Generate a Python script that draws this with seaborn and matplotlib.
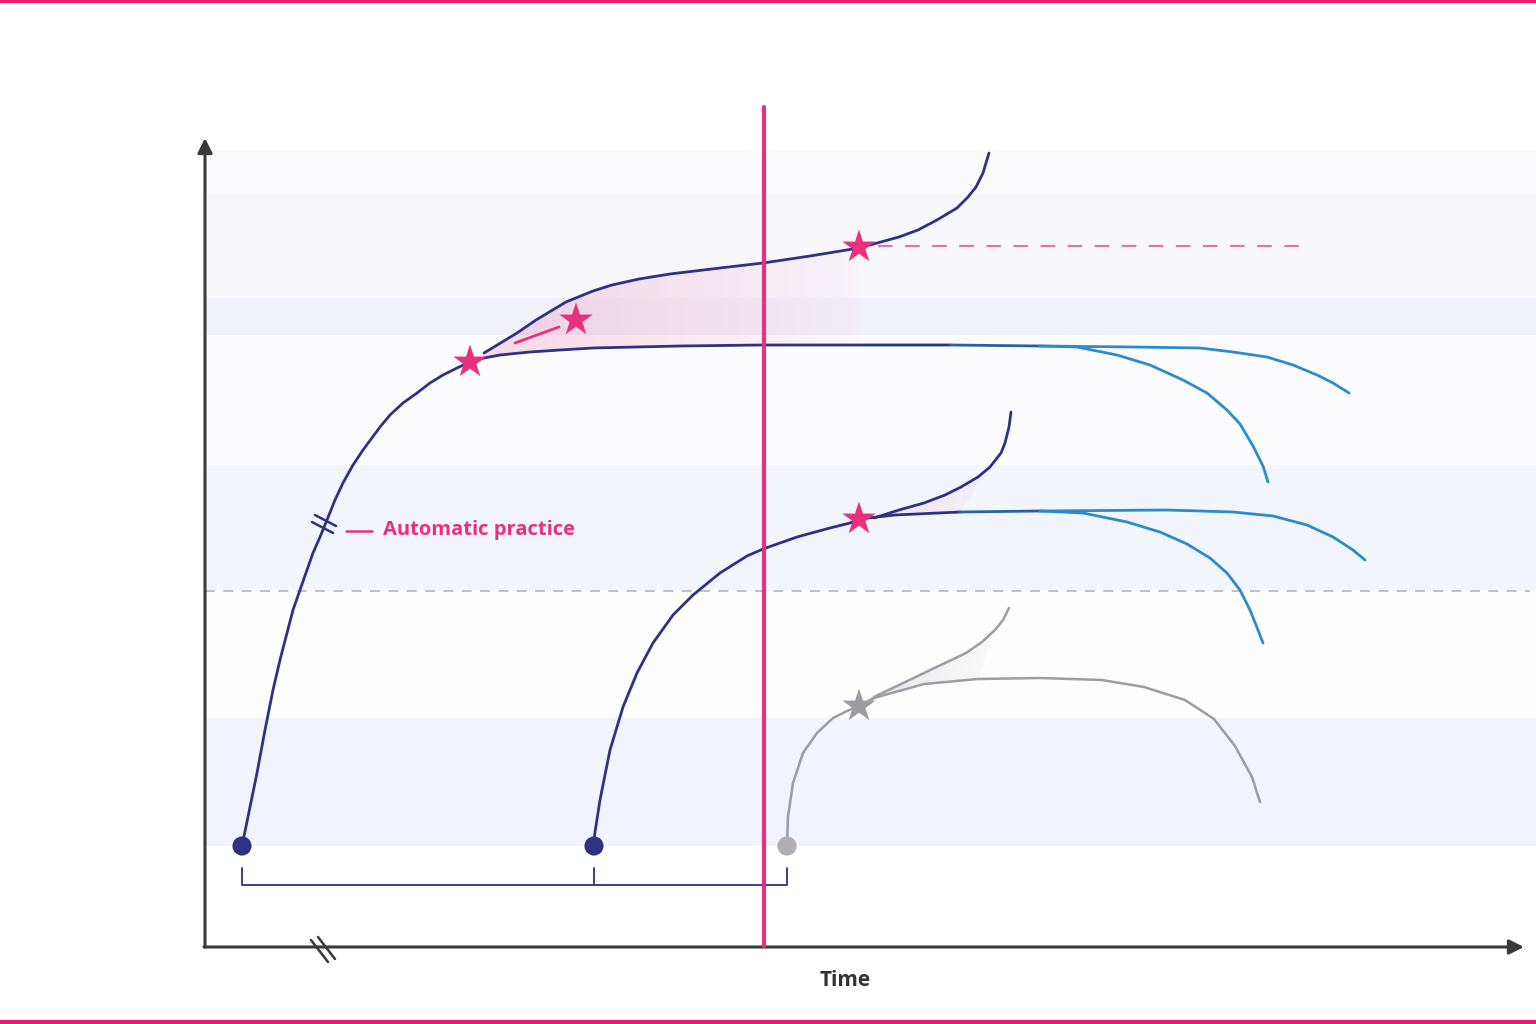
import numpy as np
import pandas as pd
import matplotlib
matplotlib.use("Agg")
import matplotlib.pyplot as plt
import matplotlib.colors as mcolors
import seaborn as sns

# curve points (x = time, y = screen position, top = 0)
main_rise_x = [242, 250, 257, 265, 273, 280, 287, 293, 300, 307, 313, 320, 327, 335, 343,
               353, 363, 380, 390, 403, 417, 430, 443, 457, 470]
main_rise_y = [846, 807, 773, 730, 690, 660, 633, 610, 590, 570, 553, 537, 520, 500, 483,
               465, 450, 427, 415, 403, 393, 383, 375, 368, 362]
main_up_x = [484, 517, 536, 566, 593, 612, 639, 670, 720, 763, 810, 859, 899, 918, 937, 957, 968, 976, 983, 989]
main_up_y = [353, 333, 320, 302, 291, 285, 279, 274, 268, 263, 256, 248, 237, 230, 220, 208, 197, 187, 173, 153]
main_flat_x = [470, 484, 500, 530, 560, 593, 680, 763, 860, 950, 1040]
main_flat_y = [362, 358, 355, 352, 350, 348, 346, 345, 345, 345, 346]
main_drop_x = [1040, 1077, 1117, 1150, 1183, 1207, 1227, 1240, 1253, 1263, 1268]
main_drop_y = [346, 347, 355, 365, 380, 393, 410, 424, 446, 466, 482]
main_tail_x = [1040, 1133, 1200, 1233, 1267, 1293, 1317, 1333, 1349]
main_tail_y = [346, 347, 348, 352, 357, 365, 375, 383, 393]

mid_rise_x = [593, 600, 610, 623, 637, 653, 673, 693, 720, 747, 763, 797, 830, 850, 859]
mid_rise_y = [845, 800, 750, 707, 673, 643, 615, 595, 573, 556, 549, 537, 528, 523, 519]
mid_up_x = [874, 899, 924, 945, 961, 978, 990, 1001, 1005, 1009, 1011]
mid_up_y = [518, 510, 503, 495, 487, 477, 467, 453, 443, 427, 412]
mid_flat_x = [859, 895, 960, 1040]
mid_flat_y = [519, 515, 512, 511]
mid_drop_x = [1040, 1083, 1127, 1160, 1187, 1210, 1227, 1240, 1250, 1258, 1263]
mid_drop_y = [511, 513, 522, 532, 544, 558, 573, 590, 610, 630, 643]
mid_tail_x = [1040, 1167, 1233, 1273, 1307, 1333, 1353, 1365]
mid_tail_y = [511, 510, 512, 516, 525, 537, 550, 560]

low_rise_x = [787, 788, 793, 803, 817, 833, 847, 859]
low_rise_y = [845, 817, 783, 753, 733, 718, 711, 706]
low_up_x = [874, 899, 924, 945, 966, 982, 995, 1003, 1009]
low_up_y = [697, 685, 673, 663, 653, 642, 630, 620, 608]
low_flat_x = [859, 874, 924, 978, 1040, 1102, 1144, 1185, 1214, 1235, 1252, 1260]
low_flat_y = [706, 698, 684, 679, 678, 680, 687, 700, 719, 746, 777, 802]

start_x = [242, 594, 787]
start_y = [846, 846, 846]
start_kind = ["active", "active", "new"]

star_x = [470, 576, 859, 859, 859]
star_y = [362, 320, 247, 519, 706]
star_kind = ["pink", "pink", "pink", "pink", "gray"]

now_x = 764
threshold_y = 591
target_y = 246
band_edges = [150, 195, 298, 335, 465, 590, 718, 846]
band_colors = ["#fbfbfd", "#f7f7fc", "#f1f1f9", "#fcfcfe", "#f3f5fc", "#fdfdfe", "#f1f4fc"]

NAVY = "#2d3282"
MIXED = "#2c5fa6"
BLUE = "#2a8ccb"
GRAY = "#9c9ca2"
PINK = "#e8307c"
AXIS = "#3a3a3a"

sns.set_theme(style="white")
plt.rcParams["font.family"] = ["Open Sans", "DejaVu Sans"]

fig = plt.figure(figsize=(15.36, 10.24), dpi=100)
ax = fig.add_axes([0, 0, 1, 1])
ax.set_axis_off()

# background bands
for (y0, y1), c in zip(zip(band_edges[:-1], band_edges[1:]), band_colors):
    ax.fill_between([205, 1536], y0, y1, color=c, lw=0, zorder=0)


def glow(xs, ys, color, a0, a1):
    poly, = ax.fill(xs, ys, facecolor="none", edgecolor="none")
    rgba = np.zeros((2, 256, 4))
    rgba[..., :3] = mcolors.to_rgb(color)
    rgba[..., 3] = np.linspace(a0, a1, 256)
    im = ax.imshow(rgba, extent=[min(xs), max(xs), max(ys), min(ys)],
                   aspect="auto", zorder=1, interpolation="bilinear")
    im.set_clip_path(poly)


glow(main_up_x[:12] + main_flat_x[1:9][::-1], main_up_y[:12] + main_flat_y[1:9][::-1], PINK, 0.18, 0.02)
glow(mid_up_x[:7] + mid_flat_x[:3][::-1], mid_up_y[:7] + mid_flat_y[:3][::-1], PINK, 0.12, 0.02)
glow(low_up_x[:7] + low_flat_x[1:4][::-1], low_up_y[:7] + low_flat_y[1:4][::-1], GRAY, 0.22, 0.02)


def curve(xs, ys, color, lw=2.0):
    df = pd.DataFrame({"x": xs, "y": ys})
    sns.lineplot(data=df, x="x", y="y", sort=False, color=color, lw=lw,
                 ax=ax, zorder=3, estimator=None)


for xs, ys in [(main_rise_x, main_rise_y), (main_up_x, main_up_y), (main_flat_x[:-1], main_flat_y[:-1]),
               (mid_rise_x, mid_rise_y), (mid_up_x, mid_up_y), (mid_flat_x[:-1], mid_flat_y[:-1])]:
    curve(xs, ys, NAVY)
for xs, ys in [(main_flat_x[-2:], main_flat_y[-2:]), (mid_flat_x[-2:], mid_flat_y[-2:])]:
    curve(xs, ys, MIXED)
for xs, ys in [(main_drop_x, main_drop_y), (main_tail_x, main_tail_y),
               (mid_drop_x, mid_drop_y), (mid_tail_x, mid_tail_y)]:
    curve(xs, ys, BLUE)
for xs, ys in [(low_rise_x, low_rise_y), (low_up_x, low_up_y), (low_flat_x, low_flat_y)]:
    curve(xs, ys, GRAY, 1.8)

# reference lines
ax.plot([205, 1530], [threshold_y, threshold_y], ls=(0, (6, 5)), color="#b4b4bc", lw=1.2, zorder=2)
ax.plot([878, 1300], [target_y, target_y], ls=(0, (7, 6)), color="#ee6fa3", lw=1.5, zorder=2)
ax.plot([now_x, now_x], [107, 946], color=PINK, lw=3.0, zorder=5)

# pink tick to the second star
ax.plot([515, 559], [343, 327], color=PINK, lw=2.0, zorder=3)

# start dots and stars
dots = pd.DataFrame({"x": start_x, "y": start_y, "kind": start_kind})
sns.scatterplot(data=dots, x="x", y="y", hue="kind", palette={"active": NAVY, "new": "#aeaeb4"},
                s=190, linewidth=0, legend=False, ax=ax, zorder=6)
stars = pd.DataFrame({"x": star_x, "y": star_y, "kind": star_kind})
sns.scatterplot(data=stars, x="x", y="y", hue="kind", palette={"pink": PINK, "gray": GRAY},
                marker="*", s=640, linewidth=0, legend=False, ax=ax, zorder=7)

# bracket under the start points
ax.plot([start_x[0], start_x[0], start_x[2], start_x[2]], [868, 885, 885, 868], color=NAVY, lw=1.3, zorder=3)
ax.plot([start_x[1], start_x[1]], [868, 885], color=NAVY, lw=1.3, zorder=3)

# axes with arrows
ax.annotate("", xy=(205, 138), xytext=(205, 947),
            arrowprops=dict(arrowstyle="-|>", lw=2.2, color=AXIS, mutation_scale=22, shrinkA=0, shrinkB=0))
ax.annotate("", xy=(1524, 947), xytext=(204, 947),
            arrowprops=dict(arrowstyle="-|>", lw=2.2, color=AXIS, mutation_scale=22, shrinkA=0, shrinkB=0))

# break marks
ax.plot([311, 328], [940, 962], color=AXIS, lw=1.8, zorder=4)
ax.plot([318, 335], [937, 959], color=AXIS, lw=1.8, zorder=4)
ax.plot([312, 333], [522, 533], color=NAVY, lw=1.8, zorder=4)
ax.plot([315, 336], [515, 526], color=NAVY, lw=1.8, zorder=4)

ax.plot([346, 372], [531, 531], color=PINK, lw=1.8, zorder=4)
ax.text(383, 530, "Automatic practice", color=PINK, fontsize=14.5, fontweight="bold",
        va="center", ha="left", zorder=4)
ax.text(845, 981, "Time", color="#333333", fontsize=15, fontweight="bold", va="center", ha="center")

# pink frame lines
ax.plot([0, 1536], [1, 1], color="#ec1a6e", lw=3, zorder=8)
ax.plot([0, 1536], [1022, 1022], color="#ec1a6e", lw=3, zorder=8)

ax.set_xlim(0, 1536)
ax.set_ylim(1024, 0)
fig.savefig("out.png", dpi=100, facecolor="white")
